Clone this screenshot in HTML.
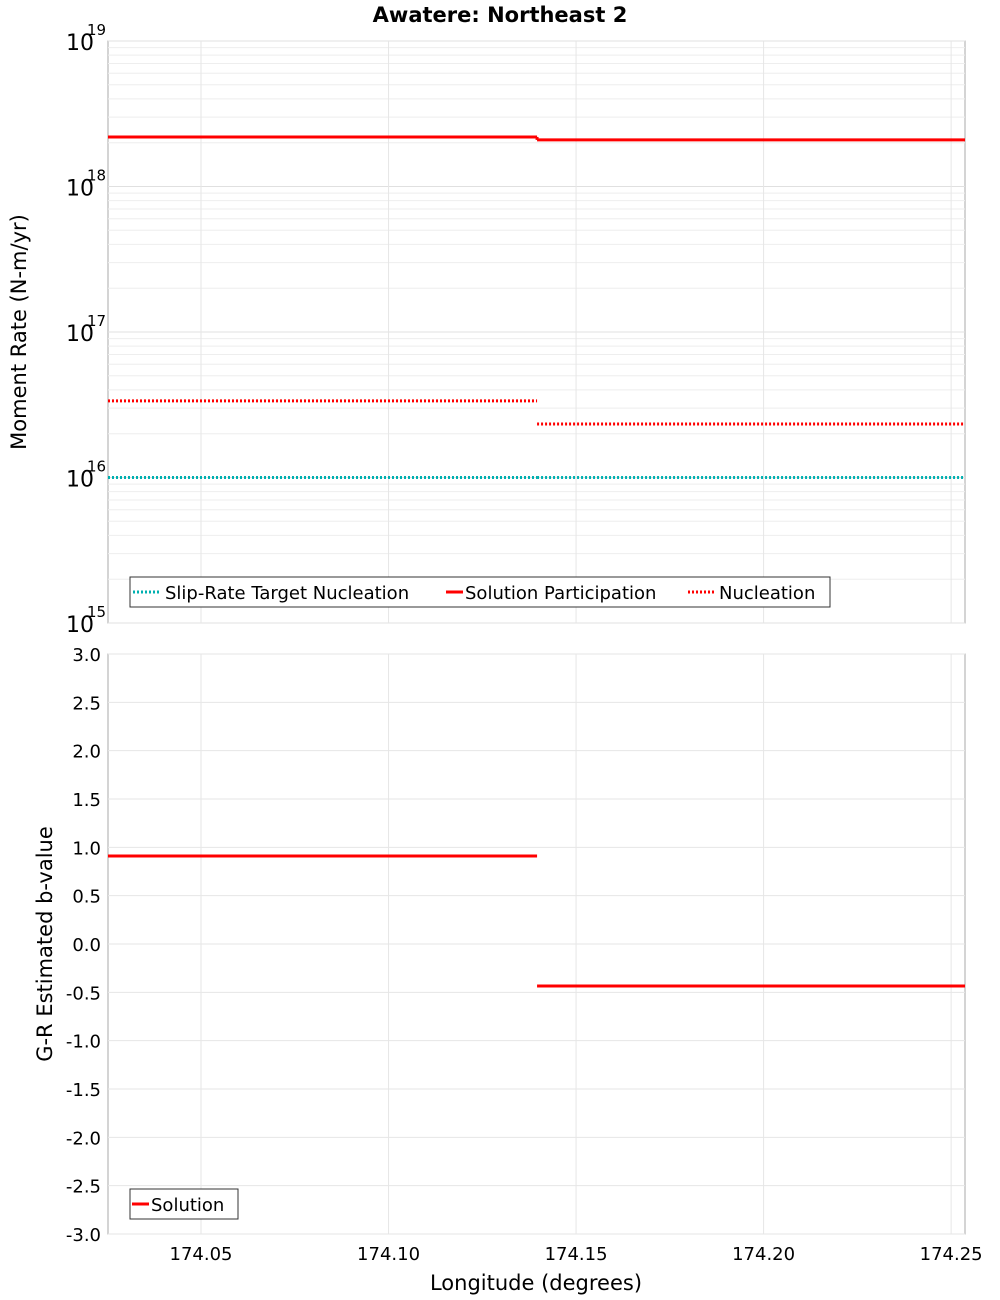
<!DOCTYPE html>
<html><head><meta charset="utf-8"><style>
body{margin:0;background:#fff;}
svg{display:block;font-family:"DejaVu Sans","Liberation Sans",sans-serif;}
</style></head><body>
<svg id="chart" width="1000" height="1300" xmlns="http://www.w3.org/2000/svg"></svg>
<script>
const xTicks=[174.05,174.10,174.15,174.20,174.25];
const xTickLabels=["174.05","174.10","174.15","174.20","174.25"];
const segStarts=[174.0252,174.1396];
const segEnds=[174.1396,174.2537];
const participation=[2.19e18,2.09e18];
const nucleation=[3.36e16,2.33e16];
const targetNucleation=[1.0e16,1.0e16];
const bValues=[0.91,-0.434];
const logDecades=[15,16,17,18,19];
const bTicks=[-3,-2.5,-2,-1.5,-1,-0.5,0,0.5,1,1.5,2,2.5,3];
const bTickLabels=["-3.0","-2.5","-2.0","-1.5","-1.0","-0.5","0.0","0.5","1.0","1.5","2.0","2.5","3.0"];

const NS="http://www.w3.org/2000/svg";
const svg=document.getElementById('chart');
const L=108,R=965,T1=41,B1=623,T2=654,B2=1234;
const xMin=174.0252,xMax=174.2537;
const X=v=>L+(v-xMin)/(xMax-xMin)*(R-L);
const Y1=v=>B1-(Math.log10(v)-15)/4*(B1-T1);
const Y2=v=>B2-(v+3)/6*(B2-T2);
function mk(tag,attrs,name,parent){const e=document.createElementNS(NS,tag);for(const k in attrs)e.setAttribute(k,attrs[k]);


(parent||svg).appendChild(e);return e;}
function txt(x,y,s,name,extra){const t=mk('text',Object.assign({x:x,y:y,'font-size':18,fill:'#000'},extra||{}),name);t.textContent=s;return t;}

txt(500,22,"Awatere: Northeast 2","chart-title",{'text-anchor':'middle','font-weight':'bold','font-size':21});

mk('rect',{x:L,y:T1,width:R-L,height:B1-T1,fill:'#fff',stroke:'#aaa'},'top-plot-area');
for(let d=15;d<19;d++){for(let m=2;m<10;m++){const y=Y1(m*Math.pow(10,d));mk('line',{x1:L,x2:R,y1:y,y2:y,stroke:'#eee'},'minor-gridline');}}
logDecades.forEach(d=>{const y=Y1(Math.pow(10,d));mk('line',{x1:L,x2:R,y1:y,y2:y,stroke:'#e0e0e0'},'major-gridline');
 txt(94,y+9,"10","y-tick-label",{'text-anchor':'end','font-size':22});
 txt(87,y-6,String(d),"y-tick-exponent",{'font-size':15});});
xTicks.forEach(v=>{mk('line',{x1:X(v),x2:X(v),y1:T1,y2:B1,stroke:'#e6e6e6'},'x-gridline');mk('line',{x1:X(v),x2:X(v),y1:T2,y2:B2,stroke:'#e6e6e6'},'x-gridline');});
txt(26,332,"Moment Rate (N-m/yr)","y-axis-title-top",{'text-anchor':'middle','transform':'rotate(-90 26 332)','font-size':21});

for(let i=0;i<segStarts.length;i++){
 mk('line',{x1:X(segStarts[i]),x2:X(segEnds[i]),y1:Y1(targetNucleation[i]),y2:Y1(targetNucleation[i]),stroke:'#00b0b0','stroke-width':3,'stroke-dasharray':'2,2'},'target-nucleation-line');
 mk('line',{x1:X(segStarts[i]),x2:X(segEnds[i]),y1:Y1(nucleation[i]),y2:Y1(nucleation[i]),stroke:'#f00','stroke-width':3,'stroke-dasharray':'2,2'},'nucleation-line');
 mk('line',{x1:X(segStarts[i]),x2:X(segEnds[i]),y1:Y1(participation[i]),y2:Y1(participation[i]),stroke:'#f00','stroke-width':3},'participation-line');
}
mk('line',{x1:X(segEnds[0]),x2:X(segEnds[0]),y1:Y1(participation[0]),y2:Y1(participation[1]),stroke:'#f00','stroke-width':3},'participation-step');

mk('rect',{x:130,y:577,width:700,height:30,fill:'#fff',stroke:'#333'},'legend-top');
mk('line',{x1:133,x2:161,y1:592,y2:592,stroke:'#00b0b0','stroke-width':3,'stroke-dasharray':'2,2'},'legend-swatch-target');
txt(165,599,"Slip-Rate Target Nucleation","legend-entry-target");
mk('line',{x1:446,x2:463,y1:592,y2:592,stroke:'#f00','stroke-width':3},'legend-swatch-participation');
txt(465,599,"Solution Participation","legend-entry-participation");
mk('line',{x1:688,x2:716,y1:592,y2:592,stroke:'#f00','stroke-width':3,'stroke-dasharray':'2,2'},'legend-swatch-nucleation');
txt(719,599,"Nucleation","legend-entry-nucleation");

mk('rect',{x:L,y:T2,width:R-L,height:B2-T2,fill:'none',stroke:'#aaa'},'bottom-plot-area');
bTicks.forEach((v,i)=>{const y=Y2(v);mk('line',{x1:L,x2:R,y1:y,y2:y,stroke:'#e6e6e6'},'b-gridline');
 txt(101,y+7,bTickLabels[i],"b-tick-label",{'text-anchor':'end'});});
txt(52,944,"G-R Estimated b-value","y-axis-title-bottom",{'text-anchor':'middle','transform':'rotate(-90 52 944)','font-size':21});
for(let i=0;i<segStarts.length;i++){
 mk('line',{x1:X(segStarts[i]),x2:X(segEnds[i]),y1:Y2(bValues[i]),y2:Y2(bValues[i]),stroke:'#f00','stroke-width':3},'b-value-line');
}
mk('rect',{x:130,y:1189,width:108,height:30,fill:'#fff',stroke:'#333'},'legend-bottom');
mk('line',{x1:132,x2:149,y1:1204,y2:1204,stroke:'#f00','stroke-width':3},'legend-swatch-solution');
txt(151,1211,"Solution","legend-entry-solution");

xTicks.forEach((v,i)=>txt(X(v),1260,xTickLabels[i],"x-tick-label",{'text-anchor':'middle'}));
txt(536,1290,"Longitude (degrees)","x-axis-title",{'text-anchor':'middle','font-size':21});
</script>
</body></html>
